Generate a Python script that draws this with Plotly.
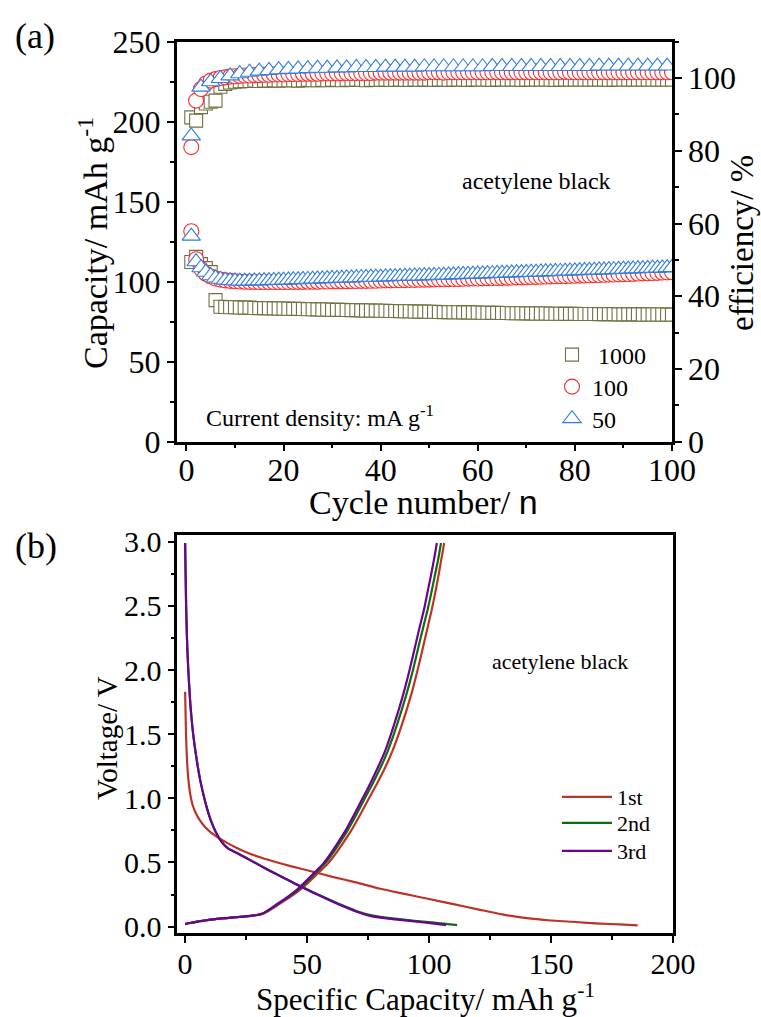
import plotly.graph_objects as go

# ---------------- (a) cycling data ----------------
cycles = list(range(1, 101))
cycles_eff_50 = list(range(1, 100, 2))

cap_1000 = [112.3, 115.5, 111.0, 108.5, 106.0, 88.5, 84.3, 84.2, 84.0, 84.0,
            83.9, 83.8, 83.8, 83.6, 83.5, 83.5, 83.4, 83.3, 83.2, 83.2,
            83.1, 83.0, 83.0, 82.9, 82.8, 82.8, 82.7, 82.6, 82.6, 82.5,
            82.4, 82.4, 82.3, 82.2, 82.2, 82.1, 82.0, 82.0, 81.9, 81.8,
            81.8, 81.7, 81.7, 81.6, 81.5, 81.5, 81.4, 81.3, 81.3, 81.2,
            81.2, 81.1, 81.0, 81.0, 80.9, 80.9, 80.8, 80.8, 80.7, 80.7,
            80.6, 80.6, 80.5, 80.5, 80.4, 80.4, 80.3, 80.3, 80.3, 80.2,
            80.2, 80.1, 80.1, 80.1, 80.0, 80.0, 80.0, 79.9, 79.9, 79.9,
            79.8, 79.8, 79.8, 79.8, 79.7, 79.7, 79.7, 79.7, 79.6, 79.6,
            79.6, 79.6, 79.6, 79.5, 79.5, 79.5, 79.5, 79.5, 79.4, 79.4]

cap_100 = [131.5, 114.0, 108.0, 105.0, 103.2, 102.0, 101.3, 100.8, 100.5, 100.3,
           100.1, 100.0, 99.9, 99.9, 99.8, 99.8, 99.8, 99.8, 99.8, 99.8,
           99.8, 99.9, 99.9, 99.9, 100.0, 100.0, 100.0, 100.1, 100.1, 100.2,
           100.2, 100.3, 100.3, 100.4, 100.4, 100.5, 100.5, 100.6, 100.6, 100.7,
           100.8, 100.8, 100.9, 100.9, 101.0, 101.1, 101.1, 101.2, 101.3, 101.3,
           101.4, 101.5, 101.5, 101.6, 101.7, 101.7, 101.8, 101.9, 102.0, 102.0,
           102.1, 102.2, 102.3, 102.3, 102.4, 102.5, 102.6, 102.7, 102.7, 102.8,
           102.9, 103.0, 103.1, 103.2, 103.3, 103.4, 103.5, 103.5, 103.6, 103.7,
           103.8, 103.9, 104.0, 104.1, 104.2, 104.3, 104.4, 104.5, 104.6, 104.7,
           104.8, 104.9, 105.1, 105.2, 105.3, 105.4, 105.5, 105.7, 105.8, 106.0]

cap_50 = [128.5, 112.5, 108.7, 105.9, 103.7, 102.3, 101.5, 101.0, 100.7, 100.5,
          100.4, 100.4, 100.4, 100.5, 100.5, 100.6, 100.7, 100.8, 100.9, 101.0,
          101.1, 101.2, 101.3, 101.4, 101.5, 101.6, 101.7, 101.8, 101.9, 102.0,
          102.1, 102.2, 102.3, 102.4, 102.5, 102.6, 102.7, 102.8, 102.8, 102.9,
          103.0, 103.1, 103.2, 103.3, 103.4, 103.5, 103.6, 103.6, 103.7, 103.8,
          103.9, 104.0, 104.1, 104.2, 104.3, 104.4, 104.5, 104.6, 104.7, 104.8,
          104.9, 105.0, 105.1, 105.2, 105.3, 105.4, 105.5, 105.6, 105.7, 105.8,
          105.9, 106.0, 106.1, 106.2, 106.3, 106.4, 106.5, 106.6, 106.7, 106.8,
          106.9, 107.0, 107.1, 107.2, 107.3, 107.4, 107.5, 107.6, 107.7, 107.8,
          107.9, 108.0, 108.1, 108.2, 108.3, 108.4, 108.5, 108.6, 108.8, 108.9]

eff_1000 = [89.2, 88.3, 92.0, 93.0, 93.5, 93.8, 97.6, 98.4, 98.8, 99.0,
            99.1, 99.2, 99.2, 99.3, 99.2, 99.3, 99.3, 99.4, 99.3, 99.4,
            99.4, 99.4, 99.3, 99.4, 99.5, 99.4, 99.4, 99.5, 99.4, 99.5,
            99.5, 99.4, 99.5, 99.5, 99.6, 99.5, 99.4, 99.5, 99.5, 99.5,
            99.6, 99.5, 99.5, 99.6, 99.5, 99.5, 99.6, 99.5, 99.6, 99.6,
            99.5, 99.6, 99.6, 99.5, 99.6, 99.6, 99.6, 99.5, 99.6, 99.6,
            99.6, 99.6, 99.5, 99.6, 99.6, 99.6, 99.6, 99.6, 99.5, 99.6,
            99.6, 99.6, 99.6, 99.6, 99.6, 99.5, 99.6, 99.6, 99.6, 99.6,
            99.6, 99.6, 99.6, 99.6, 99.6, 99.6, 99.5, 99.6, 99.6, 99.6,
            99.6, 99.6, 99.6, 99.6, 99.6, 99.6, 99.6, 99.6, 99.6, 99.6]

eff_100 = [81.0, 93.8, 97.0, 98.5, 99.3, 99.7, 100.0, 100.2, 100.4, 100.5,
           100.6, 100.7, 100.7, 100.8, 100.8, 100.9, 100.9, 101.0, 101.0, 101.0,
           101.1, 101.1, 101.1, 101.2, 101.2, 101.2, 101.2, 101.3, 101.3, 101.3,
           101.3, 101.3, 101.4, 101.4, 101.4, 101.4, 101.4, 101.4, 101.5, 101.5,
           101.5, 101.5, 101.5, 101.5, 101.5, 101.5, 101.5, 101.5, 101.5, 101.6,
           101.6, 101.6, 101.5, 101.6, 101.6, 101.6, 101.6, 101.6, 101.6, 101.6,
           101.6, 101.6, 101.6, 101.6, 101.6, 101.6, 101.6, 101.6, 101.6, 101.6,
           101.6, 101.6, 101.6, 101.6, 101.6, 101.6, 101.6, 101.7, 101.6, 101.6,
           101.6, 101.6, 101.6, 101.6, 101.6, 101.6, 101.6, 101.6, 101.6, 101.6,
           101.6, 101.6, 101.6, 101.6, 101.6, 101.6, 101.6, 101.6, 101.6, 101.6]

eff_50 = [84.1, 97.5, 99.0, 99.9, 100.6, 101.2, 101.6, 101.9, 102.1, 102.3,
          102.4, 102.5, 102.6, 102.7, 102.7, 102.8, 102.8, 102.9, 102.9, 102.9,
          103.0, 103.0, 103.0, 103.0, 103.1, 103.1, 103.1, 103.1, 103.1, 103.1,
          103.1, 103.2, 103.2, 103.2, 103.2, 103.2, 103.2, 103.2, 103.2, 103.2,
          103.2, 103.2, 103.3, 103.3, 103.3, 103.3, 103.3, 103.3, 103.3, 103.3]

rate_labels = ["\u00a01000", "100", "50"]

# ---------------- (b) voltage profiles ----------------
cap_dis_1 = [0, 0.2, 0.4, 0.7, 1.1, 1.6, 2.3, 3.2, 4.5, 6.0, 8.0, 10.5, 13.5, 17, 21, 25, 30,
             36, 44, 52, 60, 70, 80, 90, 100, 110, 120, 130, 140, 150, 160, 170, 178, 185.5]
v_dis_1 = [1.83, 1.65, 1.48, 1.33, 1.20, 1.10, 1.01, 0.94, 0.88, 0.83, 0.78, 0.735, 0.695, 0.655,
           0.615, 0.58, 0.545, 0.51, 0.468, 0.43, 0.39, 0.345, 0.295, 0.255, 0.215, 0.175, 0.135,
           0.095, 0.066, 0.048, 0.036, 0.024, 0.017, 0.01]

cap_dis_2 = [0, 0.2, 0.4, 0.7, 1.1, 1.6, 2.2, 3.0, 3.9, 5.0, 6.2, 7.5, 9.0, 10.5, 12.5, 14.8, 17.5,
             21, 25, 30, 35, 40, 45, 50, 55, 60, 65, 70, 75, 80, 87, 94, 101, 107, 111.5]
v_dis_2 = [2.99, 2.75, 2.52, 2.28, 2.08, 1.9, 1.72, 1.55, 1.41, 1.27, 1.14, 1.03, 0.92, 0.83, 0.74,
           0.665, 0.612, 0.577, 0.537, 0.485, 0.434, 0.385, 0.337, 0.291, 0.246, 0.203, 0.163, 0.124,
           0.094, 0.076, 0.06, 0.046, 0.033, 0.022, 0.012]

cap_dis_3 = [0, 0.2, 0.4, 0.7, 1.1, 1.6, 2.2, 3.0, 3.9, 5.0, 6.2, 7.5, 9.0, 10.5, 12.5, 14.8, 17.5,
             21, 25, 30, 35, 40, 45, 50, 55, 60, 65, 70, 75, 80, 86, 92, 98, 103, 107]
v_dis_3 = [2.99, 2.75, 2.52, 2.28, 2.08, 1.9, 1.72, 1.55, 1.41, 1.27, 1.14, 1.03, 0.92, 0.83, 0.74,
           0.665, 0.61, 0.575, 0.535, 0.483, 0.432, 0.383, 0.335, 0.288, 0.242, 0.198, 0.157, 0.118,
           0.088, 0.07, 0.057, 0.045, 0.033, 0.022, 0.012]

v_charge = [0.02, 0.028, 0.035, 0.042, 0.048, 0.054, 0.06, 0.067, 0.073, 0.078, 0.084, 0.091,
            0.105, 0.14, 0.18, 0.21, 0.245, 0.288, 0.335, 0.39, 0.44, 0.495, 0.565, 0.645, 0.74,
            0.87, 0.99, 1.12, 1.24, 1.37, 1.57, 1.83, 2.0, 2.2, 2.34, 2.47, 2.6, 2.73, 2.86, 2.99]
cap_ch_1 = [0, 2, 4, 6, 8, 10.3, 13, 17, 21, 24, 27, 29.6, 32.5, 35.7, 38.9, 41.4, 44.2, 47.2,
            50.0, 53.0, 55.8, 58.7, 61.6, 64.5, 67.8, 71.7, 75.1, 78.8, 82.0, 85.0, 88.8, 93.0,
            95.3, 97.8, 99.5, 101.1, 102.5, 103.8, 105.0, 106.2]
cap_ch_2 = [0, 2, 4, 6, 8, 10.3, 13, 17, 21, 24, 27, 29.5, 32.2, 35.3, 38.4, 40.8, 43.5, 46.4,
            49.1, 52.0, 54.7, 57.5, 60.3, 63.1, 66.3, 70.1, 73.4, 77.0, 80.1, 83.1, 86.8, 91.0,
            93.4, 95.9, 97.7, 99.4, 100.9, 102.3, 103.7, 104.9]
cap_ch_3 = [0, 2, 4, 6, 8, 10.3, 13, 17, 21, 24, 27, 29.5, 32, 35, 38, 40.4, 43, 45.9, 48.5,
            51.4, 54, 56.8, 59.5, 62.3, 65.5, 69.2, 72.5, 76, 79, 82, 85.6, 89.7, 92, 94.5,
            96.2, 97.9, 99.3, 100.7, 102, 103.2]

cycle_labels = ["1st", "2nd", "3rd"]

# ---------------- styling ----------------
SERIF = "Liberation Serif, Times New Roman, serif"
OLIVE = "#707040"
RED = "#ff2a2a"
BLUE = "#2f7de1"
C1, C2, C3 = "#be3228", "#0a6e0a", "#6e0096"
W, H = 761, 1017

fig = go.Figure()

def mk(sym, size, color):
    return dict(symbol=sym, size=size, color="white", line=dict(color=color, width=1.1))

# capacity (left axis)
fig.add_trace(go.Scatter(x=cycles, y=cap_1000, mode="markers", marker=mk("square", 13, OLIVE),
                         name=rate_labels[0], legend="legend", xaxis="x", yaxis="y"))
fig.add_trace(go.Scatter(x=cycles, y=cap_100, mode="markers", marker=mk("circle", 15, RED),
                         name=rate_labels[1], legend="legend2", xaxis="x", yaxis="y"))
fig.add_trace(go.Scatter(x=cycles, y=cap_50, mode="markers", marker=mk("triangle-up", 16, BLUE),
                         name=rate_labels[2], legend="legend3", xaxis="x", yaxis="y"))
# efficiency (right axis)
fig.add_trace(go.Scatter(x=cycles, y=eff_1000, mode="markers", marker=mk("square", 13, OLIVE),
                         showlegend=False, xaxis="x", yaxis="y2"))
fig.add_trace(go.Scatter(x=cycles, y=eff_100, mode="markers", marker=mk("circle", 15, RED),
                         showlegend=False, xaxis="x", yaxis="y2"))
fig.add_trace(go.Scatter(x=cycles_eff_50, y=eff_50, mode="markers", marker=mk("triangle-up", 16, BLUE),
                         showlegend=False, xaxis="x", yaxis="y2"))

# voltage profiles
for cd, vd, cc, col, lab, lg in [(cap_dis_1, v_dis_1, cap_ch_1, C1, cycle_labels[0], "legend4"),
                                 (cap_dis_2, v_dis_2, cap_ch_2, C2, cycle_labels[1], "legend5"),
                                 (cap_dis_3, v_dis_3, cap_ch_3, C3, cycle_labels[2], "legend6")]:
    fig.add_trace(go.Scatter(x=cd + [None] + cc, y=vd + [None] + v_charge, mode="lines",
                             line=dict(color=col, width=2.2, shape="spline", smoothing=0.6),
                             name=lab, legend=lg, xaxis="x2", yaxis="y3", connectgaps=False))

axis_common = dict(showgrid=False, zeroline=False, showline=True, linecolor="black", linewidth=2.5,
                   ticks="outside", ticklen=7, tickwidth=2, tickcolor="black", automargin=False,
                   tickfont=dict(family=SERIF, size=32, color="black"))
minor_common = dict(ticks="outside", ticklen=4, tickwidth=2, tickcolor="black", showgrid=False)

def leg(xpx, ypx, size, itemwidth=30):
    return dict(x=xpx / W, y=1 - ypx / H, xanchor="left", yanchor="middle",
                bgcolor="rgba(0,0,0,0)", borderwidth=0, font=dict(family=SERIF, size=size, color="black"),
                itemsizing="trace", itemwidth=itemwidth)

fig.update_layout(
    width=W, height=H,
    margin=dict(l=0, r=0, t=0, b=0, autoexpand=False),
    paper_bgcolor="white", plot_bgcolor="white",
    font=dict(family=SERIF, color="black"),
    xaxis=dict(axis_common, domain=[0.2322, 0.8830], range=[-2, 100], tick0=0, dtick=20,
               mirror=True, anchor="y", ticklabelstandoff=-9,
               minor=dict(minor_common, dtick=10, tick0=0)),
    yaxis=dict(axis_common, domain=[0.5657, 0.9590], range=[0, 250], tick0=0, dtick=50,
               anchor="x", minor=dict(minor_common, dtick=25, tick0=0)),
    yaxis2=dict(axis_common, range=[0, 110], tick0=0, dtick=20, overlaying="y", side="right",
                anchor="x", minor=dict(minor_common, dtick=10, tick0=0)),
    xaxis2=dict(axis_common, domain=[0.2330, 0.8844], range=[-3.2, 200], tick0=0, dtick=50,
                mirror=True, anchor="y3", ticklabelstandoff=-5,
                tickfont=dict(family=SERIF, size=30, color="black"),
                minor=dict(minor_common, dtick=25, tick0=0)),
    yaxis3=dict(axis_common, domain=[0.0823, 0.4739], range=[-0.052, 3.052], tick0=0, dtick=0.5,
                tickformat=".1f", mirror=True, anchor="x2",
                tickfont=dict(family=SERIF, size=30, color="black"),
                minor=dict(minor_common, dtick=0.25, tick0=0)),
    legend=leg(552, 355, 24),
    legend2=leg(552, 387, 24),
    legend3=leg(552, 419, 24),
    legend4=leg(557, 797, 22, 50),
    legend5=leg(557, 823, 22, 50),
    legend6=leg(557, 851, 22, 50),
    showlegend=True,
)

def ann(text, x, y, size, angle=0):
    fig.add_annotation(text=text, x=x / W, y=1 - y / H, xref="paper", yref="paper",
                       showarrow=False, xanchor="center", yanchor="middle", textangle=angle,
                       font=dict(family=SERIF, size=size, color="black"))

ann("(a)", 35, 36, 36)
ann("(b)", 36, 546, 36)
ann("Capacity/ mAh g<sup>-1</sup>", 93, 243, 34, -90)
ann("efficiency/ %", 742, 243, 33, -90)
ann('Cycle number/ <span style="font-family:Liberation Sans, Arial, sans-serif">n</span>', 424, 502, 34)
ann("acetylene black", 536, 181, 24)
ann("Current density: mA g<sup>-1</sup>", 320, 416, 24)
ann("Voltage/ V", 107, 738, 29, -90)
ann("Specific Capacity/ mAh g<sup>-1</sup>", 425, 997, 31)
ann("acetylene black", 560, 661, 22)

fig.write_html("out.html")
